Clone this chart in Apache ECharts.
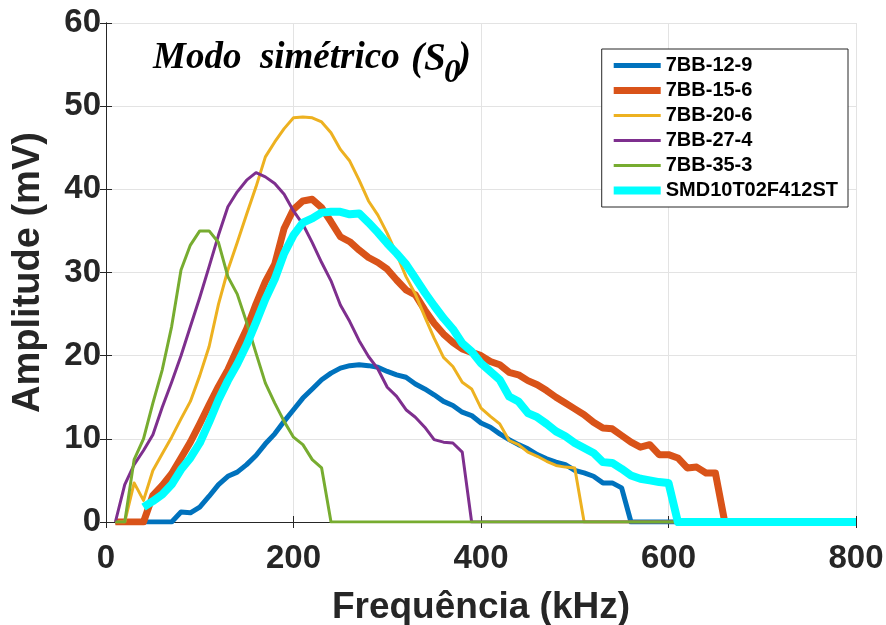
<!DOCTYPE html>
<html>
<head>
<meta charset="utf-8">
<title>Modo simétrico (S0)</title>
<script src="https://cdn.jsdelivr.net/npm/echarts@6/dist/echarts.min.js"></script>
<style>
  html, body { margin: 0; padding: 0; background: #ffffff; }
  #chart { width: 886px; height: 625px; }
</style>
</head>
<body>
<div id="chart"></div>
<script>
// Frequency (kHz) vs amplitude (mV) pairs for each transducer
const s7BB_12_9 = [[10,0],[70,0],[80,1.2],[90,1.1],[100,1.8],[110,3.1],[120,4.5],[130,5.5],[140,6.0],[150,6.9],[160,8.0],[170,9.4],[180,10.6],[190,12.1],[200,13.5],[210,14.9],[220,16.0],[230,17.1],[240,17.9],[250,18.5],[260,18.8],[270,18.9],[280,18.8],[290,18.6],[300,18.1],[310,17.7],[320,17.4],[330,16.6],[340,16.0],[350,15.3],[360,14.5],[370,14.0],[380,13.2],[390,12.8],[400,11.9],[410,11.4],[420,10.6],[430,9.9],[440,9.3],[450,8.8],[460,8.1],[470,7.6],[480,7.2],[490,6.9],[500,6.2],[510,5.9],[520,5.5],[530,4.7],[540,4.7],[550,4.1],[560,0],[800,0]];
const s7BB_15_6 = [[10,0],[40,0],[50,3.2],[60,4.4],[70,5.8],[80,7.7],[90,9.6],[100,11.8],[110,14.1],[120,16.3],[130,18.3],[140,20.8],[150,23.2],[160,26.2],[170,28.9],[180,31.0],[190,35.3],[200,37.6],[210,38.6],[220,38.8],[230,37.8],[240,36.1],[250,34.3],[260,33.7],[270,32.7],[280,31.8],[290,31.2],[300,30.4],[310,29.1],[320,27.9],[330,27.3],[340,25.5],[350,23.9],[360,22.6],[370,21.6],[380,20.8],[390,20.4],[400,20.0],[410,19.3],[420,18.9],[430,18.0],[440,17.7],[450,17.0],[460,16.5],[470,15.8],[480,15.0],[490,14.3],[500,13.6],[510,12.9],[520,12.0],[530,11.3],[540,11.2],[550,10.4],[560,9.6],[570,9.0],[580,9.3],[590,8.1],[600,8.1],[610,7.7],[620,6.5],[630,6.6],[640,5.9],[650,5.9],[660,0],[800,0]];
const s7BB_20_6 = [[10,0],[20,0],[30,4.7],[40,2.6],[50,6.2],[60,8.2],[70,10.2],[80,12.4],[90,14.5],[100,17.6],[110,21.1],[120,26.2],[130,30.3],[140,33.6],[150,37.0],[160,40.3],[170,43.9],[180,45.7],[190,47.3],[200,48.6],[210,48.7],[220,48.6],[230,48.1],[240,46.8],[250,44.8],[260,43.4],[270,41.1],[280,38.6],[290,36.9],[300,34.7],[310,32.2],[320,29.5],[330,27.4],[340,24.7],[350,22.1],[360,19.8],[370,18.7],[380,16.8],[390,16.0],[400,13.7],[410,12.7],[420,11.8],[430,9.8],[440,9.3],[450,8.4],[460,7.9],[470,7.3],[480,6.8],[490,6.6],[500,6.5],[510,0],[800,0]];
const s7BB_27_4 = [[10,0],[20,4.5],[30,6.9],[40,8.6],[50,10.5],[60,13.8],[70,16.8],[80,20.0],[90,23.5],[100,27.0],[110,30.7],[120,34.5],[130,37.9],[140,39.7],[150,41.1],[160,42.0],[170,41.5],[180,40.7],[190,39.4],[200,37.4],[210,35.8],[220,33.6],[230,31.2],[240,29.0],[250,26.1],[260,24.1],[270,21.8],[280,19.9],[290,18.4],[300,16.2],[310,15.1],[320,13.5],[330,12.6],[340,11.4],[350,9.9],[360,9.6],[370,9.5],[380,8.4],[390,0],[800,0]];
const s7BB_35_3 = [[10,0],[20,0],[30,7.5],[40,10.0],[50,14.3],[60,18.3],[70,23.5],[80,30.3],[90,33.3],[100,35.0],[110,35.0],[120,33.6],[130,29.5],[140,27.4],[150,24.0],[160,20.3],[170,16.7],[180,14.3],[190,12.1],[200,10.2],[210,9.3],[220,7.5],[230,6.5],[240,0],[800,0]];
const sSMD = [[40,1.8],[50,2.5],[60,3.3],[70,4.5],[80,6.3],[90,7.7],[100,9.5],[110,12.0],[120,14.7],[130,17.0],[140,19.0],[150,21.3],[160,24.0],[170,26.8],[180,29.2],[190,32.3],[200,34.5],[210,36.0],[220,36.5],[230,37.2],[240,37.3],[250,37.3],[260,37.0],[270,37.1],[280,36.0],[290,34.8],[300,33.5],[310,32.3],[320,31.0],[330,29.3],[340,27.6],[350,26.0],[360,24.5],[370,23.2],[380,21.5],[390,20.5],[400,19.1],[410,18.1],[420,17.1],[430,15.1],[440,14.5],[450,13.1],[460,12.6],[470,11.8],[480,10.9],[490,10.3],[500,9.5],[510,8.9],[520,8.3],[530,7.2],[540,7.1],[550,6.4],[560,5.6],[570,5.2],[580,5.0],[590,4.8],[600,4.7],[610,0],[800,0]];

const seriesNames = ['7BB-12-9', '7BB-15-6', '7BB-20-6', '7BB-27-4', '7BB-35-3', 'SMD10T02F412ST'];
const seriesData = [s7BB_12_9, s7BB_15_6, s7BB_20_6, s7BB_27_4, s7BB_35_3, sSMD];
const seriesColors = ['#0072BD', '#D95319', '#EDB120', '#7E2F8E', '#77AC30', '#00FFFF'];
const seriesWidths = [5, 7, 3, 3, 3, 8];

const xTicks = [0, 200, 400, 600, 800];
const yTicks = [0, 10, 20, 30, 40, 50, 60];

const axisColor = '#262626';
const sans = '"Liberation Sans", Arial, sans-serif';
const serif = '"Liberation Serif", "Times New Roman", serif';

const chart = echarts.init(document.getElementById('chart'), null, { renderer: 'canvas' });

const baseAxis = {
  axisLine: { show: true, lineStyle: { color: axisColor, width: 1 } },
  axisTick: { show: true, inside: true, length: 6, lineStyle: { color: axisColor, width: 1 } },
  splitLine: { show: false },
  axisLabel: { show: false }
};

const option = {
  backgroundColor: '#ffffff',
  animation: false,
  grid: { left: 106, right: 30, top: 23, bottom: 103, containLabel: false, outerBoundsMode: 'none' },
  legend: {
    orient: 'vertical',
    right: 38,
    top: 49,
    padding: [6, 10, 6, 8],
    backgroundColor: '#ffffff',
    borderColor: axisColor,
    borderWidth: 1,
    itemWidth: 47,
    itemHeight: 8,
    itemGap: 4,
    textStyle: { fontFamily: sans, fontWeight: 'bold', fontSize: 20, color: '#000', lineHeight: 21 },
    lineStyle: { width: 'inherit' },
    itemStyle: { color: 'rgba(0,0,0,0)', borderWidth: 0, opacity: 0 },
    data: seriesNames
  },
  xAxis: [
    Object.assign({}, baseAxis, {
      type: 'value', min: xTicks[0], max: xTicks[xTicks.length - 1], interval: 200,
      position: 'bottom',
      name: 'Frequência (kHz)', nameLocation: 'middle', nameGap: 67,
      nameTextStyle: { fontFamily: sans, fontWeight: 'bold', fontSize: 37, color: axisColor },
      axisLabel: { show: true, margin: 20, fontFamily: sans, fontWeight: 'bold', fontSize: 33, color: axisColor },
      splitLine: { show: true, lineStyle: { color: '#e3e3e3', width: 1 } }
    }),
    Object.assign({}, baseAxis, {
      type: 'value', min: xTicks[0], max: xTicks[xTicks.length - 1], interval: 200,
      position: 'top'
    })
  ],
  yAxis: [
    Object.assign({}, baseAxis, {
      type: 'value', min: yTicks[0], max: yTicks[yTicks.length - 1], interval: 10,
      position: 'left',
      name: 'Amplitude (mV)', nameLocation: 'middle', nameGap: 58,
      nameTextStyle: { fontFamily: sans, fontWeight: 'bold', fontSize: 38, color: axisColor },
      axisLabel: { show: true, margin: 5, fontFamily: sans, fontWeight: 'bold', fontSize: 33, color: axisColor },
      splitLine: { show: true, lineStyle: { color: '#e3e3e3', width: 1 } }
    }),
    Object.assign({}, baseAxis, {
      type: 'value', min: yTicks[0], max: yTicks[yTicks.length - 1], interval: 10,
      position: 'right'
    })
  ],
  series: seriesNames.map((name, i) => ({
    name: name,
    type: 'line',
    xAxisIndex: 0,
    yAxisIndex: 0,
    data: seriesData[i],
    symbol: 'none',
    color: seriesColors[i],
    lineStyle: { color: seriesColors[i], width: seriesWidths[i], join: 'round' },
    z: 2 + i
  })),
  graphic: [
    {
      type: 'text', left: 153, top: 40, z: 100,
      style: { text: 'Modo  simétrico', font: 'italic bold 37px ' + serif, fill: '#000' }
    },
    {
      type: 'text', left: 411, top: 40, z: 100,
      style: { text: '(S', font: 'italic bold 39px ' + serif, fill: '#000' }
    },
    {
      type: 'text', left: 444, top: 57, z: 100,
      style: { text: '0', font: 'italic bold 33px ' + serif, fill: '#000' }
    },
    {
      type: 'text', left: 458, top: 39, z: 100,
      style: { text: ')', font: 'italic bold 39px ' + serif, fill: '#000' }
    }
  ]
};

chart.setOption(option);
</script>
</body>
</html>
